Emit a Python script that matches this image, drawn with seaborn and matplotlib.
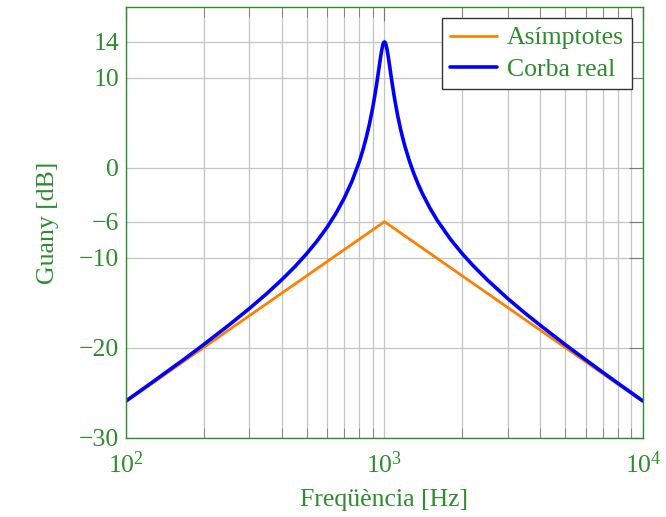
import matplotlib
matplotlib.use("Agg")
import matplotlib.pyplot as plt
import seaborn as sns
import numpy as np
from matplotlib.ticker import FixedLocator, LogLocator, NullFormatter

# Dades llegides del gràfic
freq_asym = [100, 1000, 10000]
gain_asym = [-26.0, -6.0, -26.0]

freq_real = [100, 125, 150, 167, 200, 250, 300, 350, 400, 450, 500, 550, 600, 650,
             700, 750, 800, 825, 850, 875, 900, 915, 930, 940, 950, 960, 970, 980,
             985, 990, 995, 1000, 1005, 1010, 1015, 1020, 1030, 1040, 1050, 1060,
             1070, 1085, 1100, 1125, 1150, 1175, 1200, 1250, 1300, 1350, 1400, 1500,
             1600, 1800, 2000, 2200, 2500, 3000, 3500, 4000, 5000, 6000, 7000, 8000,
             10000]
gain_real = [-25.93, -23.95, -22.30, -21.34, -19.65, -17.50, -15.66, -14.01, -12.47,
             -11.01, -9.56, -8.11, -6.62, -5.05, -3.35, -1.46, 0.71, 1.94, 3.32, 4.86,
             6.61, 7.79, 9.05, 9.94, 10.85, 11.76, 12.60, 13.32, 13.60, 13.81, 13.93,
             13.98, 13.93, 13.81, 13.61, 13.35, 12.68, 11.90, 11.07, 10.25, 9.46, 8.34,
             7.31, 5.80, 4.50, 3.37, 2.38, 0.71, -0.67, -1.83, -2.84, -4.50, -5.85,
             -7.95, -9.56, -10.87, -12.47, -14.55, -16.17, -17.50, -19.65, -21.34,
             -22.75, -23.95, -25.93]

yticks = [-30, -20, -10, -6, 0, 10, 14]
labels = ["Asímptotes", "Corba real"]

sns.set_style("white")
plt.rcParams['font.family'] = ['Liberation Serif', 'DejaVu Serif']
plt.rcParams['mathtext.fontset'] = 'stix'
plt.rcParams['axes.unicode_minus'] = True

green = "#2e8b2e"
fs = 18.5

fig = plt.figure(figsize=(6.66, 5.17), dpi=100)
ax = fig.add_axes([0.189, 0.1534, 0.7765, 0.8321])

sns.lineplot(x=freq_asym, y=gain_asym, ax=ax, color="#ff8000", linewidth=2.0,
             label=labels[0], estimator=None)
sns.lineplot(x=freq_real, y=gain_real, ax=ax, color="#0000ff", linewidth=2.6,
             label=labels[1], estimator=None)

ax.set_xscale("log")
ax.set_xlim(100, 10000)
ax.set_ylim(-30, 17.8)

ax.yaxis.set_major_locator(FixedLocator(yticks))
ax.set_yticklabels([f"{v}".replace("-", "\u2212") for v in yticks])
ax.xaxis.set_major_locator(LogLocator(base=10))
ax.xaxis.set_minor_locator(LogLocator(base=10, subs=np.arange(2, 10)))
ax.xaxis.set_minor_formatter(NullFormatter())

ax.grid(True, which="major", color="#c4c4c4", linewidth=0.9)
ax.grid(True, which="minor", axis="x", color="#c4c4c4", linewidth=0.9)

ax.tick_params(axis="both", which="major", direction="in", length=10, color="#7a7a7a",
               labelcolor=green, labelsize=fs, top=True, right=True)
ax.tick_params(axis="x", which="minor", direction="in", length=7, color="#7a7a7a",
               top=True, bottom=True)
ax.tick_params(axis="x", which="major", pad=10)
ax.tick_params(axis="y", which="major", pad=5)

for sp in ax.spines.values():
    sp.set_color(green)
    sp.set_linewidth(1.0)

ax.set_xlabel("Freqüència [Hz]", color=green, fontsize=fs, labelpad=8)
ax.set_ylabel("Guany [dB]", color=green, fontsize=fs, labelpad=14)

leg = ax.legend(loc="upper right", fontsize=fs, frameon=True, fancybox=False,
                edgecolor="#333333", framealpha=1, borderpad=0.32, handlelength=1.8,
                handletextpad=0.4, labelspacing=0.32, borderaxespad=0.42)
leg.get_frame().set_linewidth(1.0)
for t in leg.get_texts():
    t.set_color(green)

fig.savefig("out.png", dpi=100)
